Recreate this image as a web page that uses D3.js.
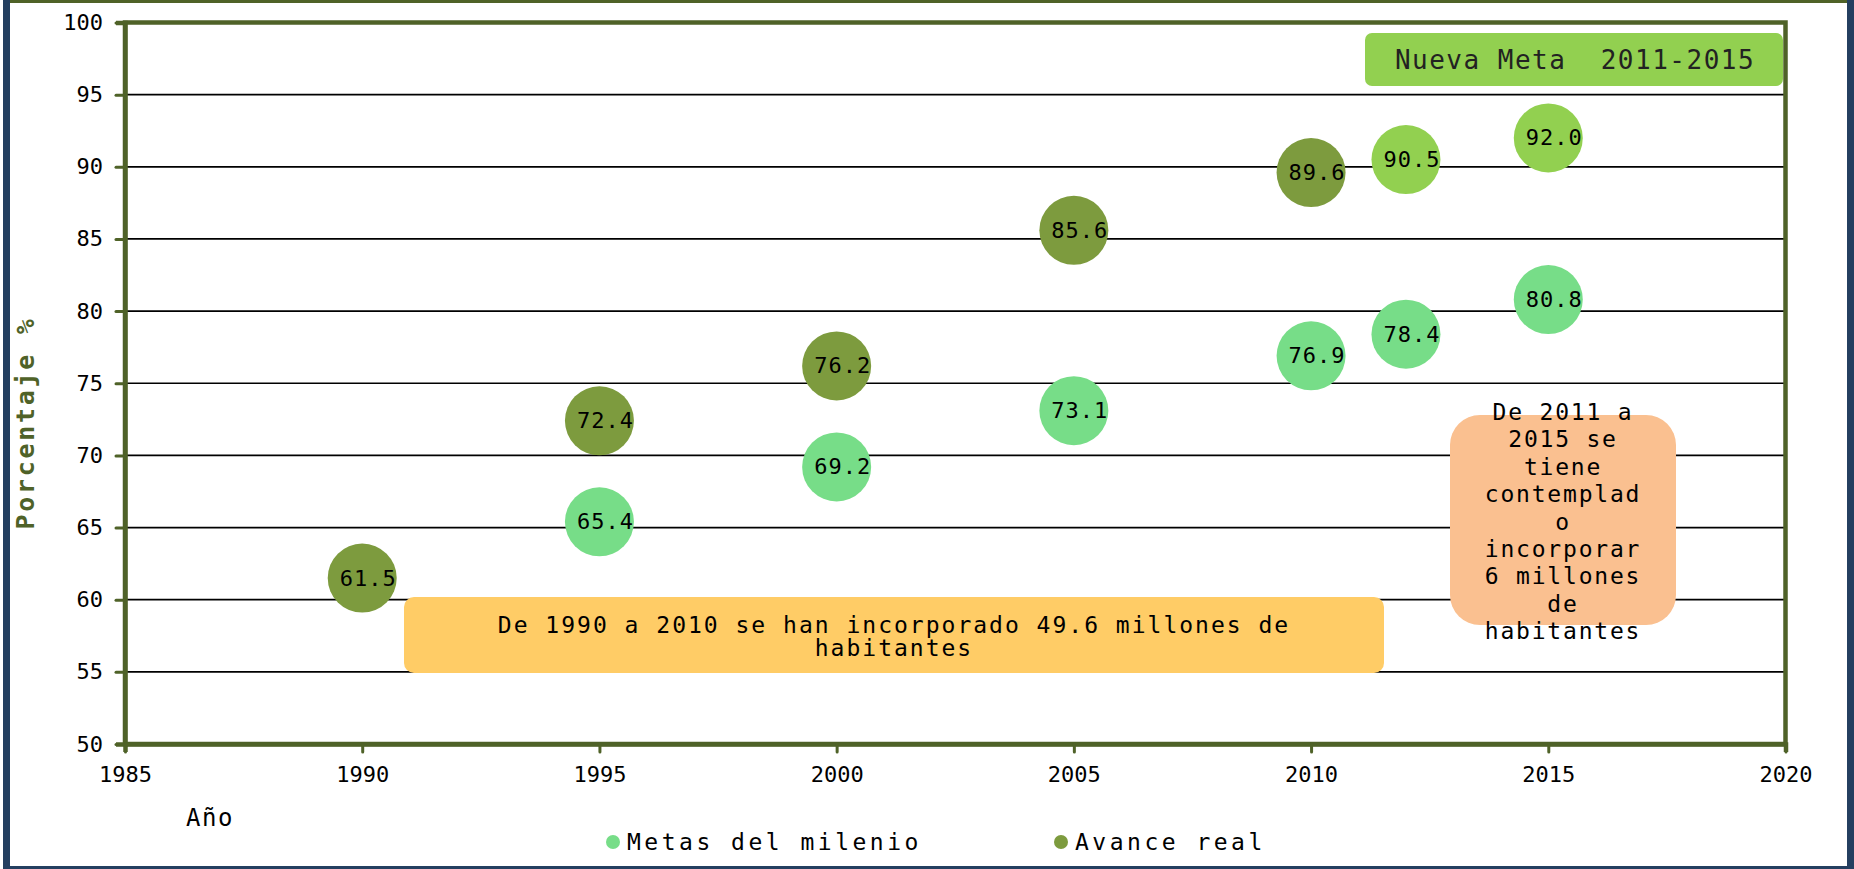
<!DOCTYPE html>
<html>
<head>
<meta charset="utf-8">
<script src="https://cdn.jsdelivr.net/npm/d3@7"></script>
<style>
  html, body { margin: 0; padding: 0; background: #fff; }
  svg { display: block; }
</style>
</head>
<body>
<script>
// ---------- DATA ----------
const metasYears   = [1995, 2000, 2005, 2010, 2012, 2015];
const metasValues  = [65.4, 69.2, 73.1, 76.9, 78.4, 80.8];
const avanceYears  = [1990, 1995, 2000, 2005, 2010];
const avanceValues = [61.5, 72.4, 76.2, 85.6, 89.6];
const nuevaYears   = [2012, 2015];
const nuevaValues  = [90.5, 92.0];
const xTicks = [1985, 1990, 1995, 2000, 2005, 2010, 2015, 2020];
const yTicks = [50, 55, 60, 65, 70, 75, 80, 85, 90, 95, 100];
const seriesNames = ["Metas del milenio", "Avance real"];
const yTitle = "Porcentaje %";
const xTitle = "Año";
const noteNueva = "Nueva Meta  2011-2015";
const noteYellow = ["De 1990 a 2010 se han incorporado 49.6 millones de", "habitantes"];
const noteOrange = ["De 2011 a", "2015 se", "tiene", "contemplad", "o", "incorporar", "6 millones", "de", "habitantes"];

// ---------- STYLE ----------
const W = 1854, H = 869;
const OLIVE = "#4F6228", NAVY = "#243F60";
const C_METAS = "#77DD88", C_AVANCE = "#7D9B3E", C_NUEVA = "#92D050";
const MONO = "'DejaVu Sans Mono', 'Liberation Mono', monospace";

const svg = d3.select("body").append("svg").attr("width", W).attr("height", H);
svg.append("rect").attr("width", W).attr("height", H).attr("fill", "#fff");

// outer frame
svg.append("rect").attr("x", 10).attr("y", 0).attr("width", 1837).attr("height", 3).attr("fill", OLIVE);
svg.append("rect").attr("x", 3).attr("y", 0).attr("width", 7).attr("height", H).attr("fill", NAVY);
svg.append("rect").attr("x", 1847).attr("y", 0).attr("width", 7).attr("height", H).attr("fill", NAVY);
svg.append("rect").attr("x", 3).attr("y", 866).attr("width", W - 3).attr("height", 3).attr("fill", NAVY);

const x = d3.scaleLinear().domain([1985, 2020]).range([125, 1785.5]);
const y = d3.scaleLinear().domain([50, 100]).range([744, 22.5]);

// gridlines
svg.append("g").selectAll("line").data(yTicks.filter(v => v > 50 && v < 100)).join("line")
  .attr("x1", x(1985)).attr("x2", x(2020))
  .attr("y1", d => y(d)).attr("y2", d => y(d))
  .attr("stroke", "#000").attr("stroke-width", 1.7);

// annotation boxes (behind bubbles)
const yb = svg.append("g");
yb.append("rect").attr("x", 404).attr("y", 597).attr("width", 980).attr("height", 76)
  .attr("rx", 10).attr("fill", "#FFCC66");
yb.selectAll("text").data(noteYellow).join("text")
  .attr("x", 894).attr("y", (d, i) => 625 + i * 23)
  .attr("text-anchor", "middle").attr("dominant-baseline", "central")
  .attr("font-family", MONO).attr("font-size", 23).attr("letter-spacing", 2)
  .attr("fill", "#000").text(d => d);

const ob = svg.append("g");
ob.append("rect").attr("x", 1450).attr("y", 415).attr("width", 226).attr("height", 210)
  .attr("rx", 30).attr("fill", "#FAC090");
ob.selectAll("text").data(noteOrange).join("text")
  .attr("x", 1563).attr("y", (d, i) => 412 + i * 27.4)
  .attr("text-anchor", "middle").attr("dominant-baseline", "central")
  .attr("font-family", MONO).attr("font-size", 23).attr("letter-spacing", 1.8)
  .attr("fill", "#000").text(d => d);

const nb = svg.append("g");
nb.append("rect").attr("x", 1365).attr("y", 33).attr("width", 418).attr("height", 53)
  .attr("rx", 7).attr("fill", C_NUEVA);
nb.append("text").attr("x", 1575).attr("y", 60)
  .attr("text-anchor", "middle").attr("dominant-baseline", "central")
  .attr("font-family", MONO).attr("font-size", 26).attr("letter-spacing", 1.5)
  .attr("fill", "#222").attr("xml:space", "preserve").style("white-space", "pre").text(noteNueva);

// plot frame
svg.append("rect").attr("x", x(1985)).attr("y", y(100))
  .attr("width", x(2020) - x(1985)).attr("height", y(50) - y(100))
  .attr("fill", "none").attr("stroke", OLIVE).attr("stroke-width", 4.5);

// axes
const yAxis = svg.append("g").attr("transform", `translate(${x(1985)},0)`)
  .call(d3.axisLeft(y).tickValues(yTicks).tickSize(9).tickPadding(13).tickFormat(d3.format("d")));
const xAxis = svg.append("g").attr("transform", `translate(0,${y(50)})`)
  .call(d3.axisBottom(x).tickValues(xTicks).tickSize(8).tickPadding(14).tickFormat(d3.format("d")));
[yAxis, xAxis].forEach(g => {
  g.select(".domain").attr("stroke", OLIVE).attr("stroke-width", 4.5);
  g.selectAll(".tick line").attr("stroke", OLIVE).attr("stroke-width", 3).attr("stroke-linecap", "round");
  g.selectAll(".tick text").attr("font-family", MONO).attr("font-size", 22).attr("fill", "#000");
});

// bubbles
function bubbles(xs, vs, color) {
  const data = xs.map((yr, i) => ({ yr, v: vs[i] }));
  const g = svg.append("g");
  g.selectAll("circle").data(data).join("circle")
    .attr("cx", d => x(d.yr)).attr("cy", d => y(d.v)).attr("r", 34.5).attr("fill", color);
  g.selectAll("text").data(data).join("text")
    .attr("x", d => x(d.yr) + 6).attr("y", d => y(d.v))
    .attr("text-anchor", "middle").attr("dominant-baseline", "central")
    .attr("font-family", MONO).attr("font-size", 22).attr("letter-spacing", 1)
    .attr("fill", "#000").text(d => d.v.toFixed(1));
}
bubbles(metasYears, metasValues, C_METAS);
bubbles(avanceYears, avanceValues, C_AVANCE);
bubbles(nuevaYears, nuevaValues, C_NUEVA);

// titles
svg.append("text").attr("transform", "translate(25,423) rotate(-90)")
  .attr("text-anchor", "middle").attr("dominant-baseline", "central")
  .attr("font-family", MONO).attr("font-size", 25).attr("font-weight", "bold")
  .attr("letter-spacing", 2.7).attr("fill", OLIVE).text(yTitle);
svg.append("text").attr("x", 186).attr("y", 818)
  .attr("dominant-baseline", "central")
  .attr("font-family", MONO).attr("font-size", 24).attr("letter-spacing", 1.5)
  .attr("fill", "#000").text(xTitle);

// legend
const legendX = [613, 1061];
const legendColors = [C_METAS, C_AVANCE];
const lg = svg.append("g").selectAll("g").data(seriesNames).join("g")
  .attr("transform", (d, i) => `translate(${legendX[i]},842)`);
lg.append("circle").attr("r", 7).attr("fill", (d, i) => legendColors[i]);
lg.append("text").attr("x", 14).attr("dominant-baseline", "central")
  .attr("font-family", MONO).attr("font-size", 23).attr("letter-spacing", 3.5)
  .attr("fill", "#000").text(d => d);
</script>
</body>
</html>
